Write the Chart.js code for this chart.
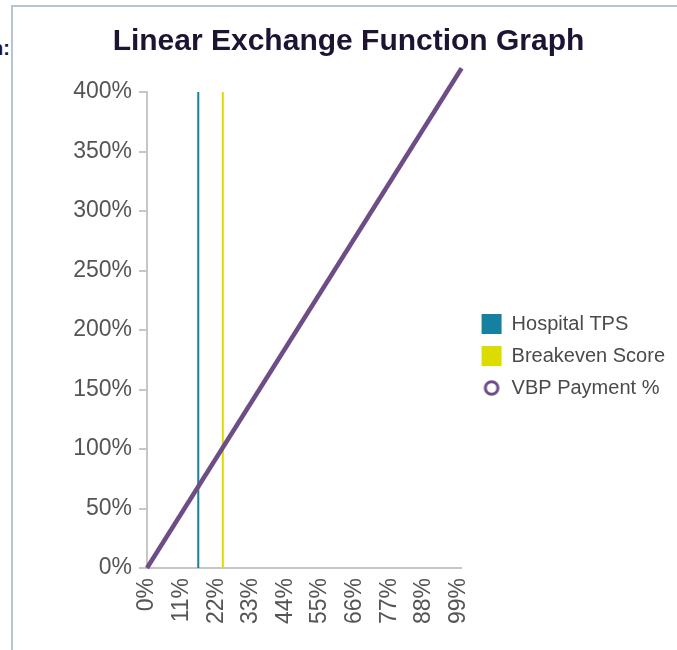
<!DOCTYPE html>
<html>
<head>
<meta charset="utf-8">
<script src="https://cdn.jsdelivr.net/npm/chart.js@4/dist/chart.umd.min.js"></script>
<style>
  html, body { margin: 0; padding: 0; width: 677px; height: 650px; overflow: hidden; background: #ffffff; }
  #frame { position: absolute; left: 11px; top: 5px; width: 700px; height: 700px;
           border-top: 2px solid #b9c4d1; border-left: 2px solid #b9c4d1; }
  #cut { position: absolute; left: -70px; top: 37px; width: 80px; text-align: right;
         font: bold 20px "Liberation Sans", Arial, sans-serif; color: #1d1433; }
  #c { position: absolute; left: 0; top: 0; }
</style>
</head>
<body>
<div id="frame"></div>
<div id="cut">Graph:</div>
<canvas id="c" width="677" height="650"></canvas>
<script>
// ---- data ----
const chartTitle = 'Linear Exchange Function Graph';
const seriesNames = ['Hospital TPS', 'Breakeven Score', 'VBP Payment %'];
const xTickValues = [0, 11, 22, 33, 44, 55, 66, 77, 88, 99];   // x tick labels (%)
const yTickValues = [0, 50, 100, 150, 200, 250, 300, 350, 400]; // y tick labels (%)
const tpsX = [16.3, 16.3];
const tpsY = [0, 400];
const breakevenX = [24.1, 24.1];
const breakevenY = [0, 400];
const vbpX = [0, 100];
const vbpY = [0, 420];

const colTPS = '#15809f';
const colBE = '#dcdc00';
const colVBP = '#6e4c85';

function pts(xs, ys) { return xs.map((x, i) => ({ x: x, y: ys[i] })); }

// legend ring marker for the VBP series
const ring = document.createElement('canvas');
ring.width = 18; ring.height = 18;
(function () {
  const g = ring.getContext('2d');
  g.beginPath();
  g.arc(9, 9, 6.3, 0, Math.PI * 2);
  g.fillStyle = '#ffffff';
  g.fill();
  g.lineWidth = 3;
  g.strokeStyle = colVBP;
  g.stroke();
})();

const FONT = '"Liberation Sans", Arial, sans-serif';

new Chart(document.getElementById('c'), {
  type: 'line',
  data: {
    datasets: [
      {
        label: seriesNames[2],
        data: pts(vbpX, vbpY),
        borderColor: colVBP,
        borderWidth: 4.5,
        pointRadius: 0,
        pointHoverRadius: 0,
        pointStyle: ring,
        clip: false
      },
      {
        label: seriesNames[0],
        data: pts(tpsX, tpsY),
        borderColor: colTPS,
        backgroundColor: colTPS,
        borderWidth: 2,
        pointRadius: 0,
        pointHoverRadius: 0,
        pointStyle: 'rect',
        pointBackgroundColor: colTPS,
        pointBorderWidth: 0
      },
      {
        label: seriesNames[1],
        data: pts(breakevenX, breakevenY),
        borderColor: colBE,
        backgroundColor: colBE,
        borderWidth: 2,
        pointRadius: 0,
        pointHoverRadius: 0,
        pointStyle: 'rect',
        pointBackgroundColor: colBE,
        pointBorderWidth: 0
      }
    ]
  },
  options: {
    responsive: false,
    animation: false,
    devicePixelRatio: 1,
    layout: { padding: { left: 22, right: 2, top: 0, bottom: 24 } },
    plugins: {
      tooltip: { enabled: false },
      title: {
        display: true,
        text: chartTitle,
        color: '#1d1433',
        font: { family: FONT, size: 30, weight: 'bold' },
        padding: { top: 24, bottom: 32 }
      },
      legend: {
        position: 'right',
        align: 'center',
        maxWidth: 215,
        title: {
          display: true,
          text: '',
          font: { family: FONT, size: 20 },
          padding: { top: 62, bottom: 0 }
        },
        labels: {
          usePointStyle: true,
          boxWidth: 20,
          boxHeight: 20,
          padding: 12,
          color: '#4a4a4a',
          font: { family: FONT, size: 20 },
          sort: (a, b) => seriesNames.indexOf(a.text) - seriesNames.indexOf(b.text)
        }
      }
    },
    scales: {
      x: {
        type: 'linear',
        min: 0,
        max: 100,
        afterBuildTicks: (s) => { s.ticks = xTickValues.map(v => ({ value: v })); },
        afterFit: (s) => { s.height = 58; },
        grid: { display: false, drawTicks: false },
        border: { display: true, color: '#c6c6c6', width: 2 },
        ticks: {
          autoSkip: false,
          minRotation: 90,
          maxRotation: 90,
          padding: 10,
          color: '#555555',
          font: { family: FONT, size: 23 },
          callback: (v) => v + '%'
        }
      },
      y: {
        type: 'linear',
        min: 0,
        max: 400,
        afterBuildTicks: (s) => { s.ticks = yTickValues.map(v => ({ value: v })); },
        afterFit: (s) => { s.width = 125; },
        grid: { display: true, drawOnChartArea: false, drawTicks: true, tickLength: 8, color: '#c6c6c6', lineWidth: 2 },
        border: { display: true, color: '#c6c6c6', width: 2 },
        ticks: {
          padding: 7,
          color: '#555555',
          font: { family: FONT, size: 23 },
          callback: (v) => v + '%'
        }
      },
      gap: {
        type: 'linear',
        position: 'right',
        display: true,
        grid: { display: false },
        border: { display: false },
        ticks: { display: false },
        afterFit: (s) => { s.width = 8; }
      }
    }
  }
});
</script>
</body>
</html>
